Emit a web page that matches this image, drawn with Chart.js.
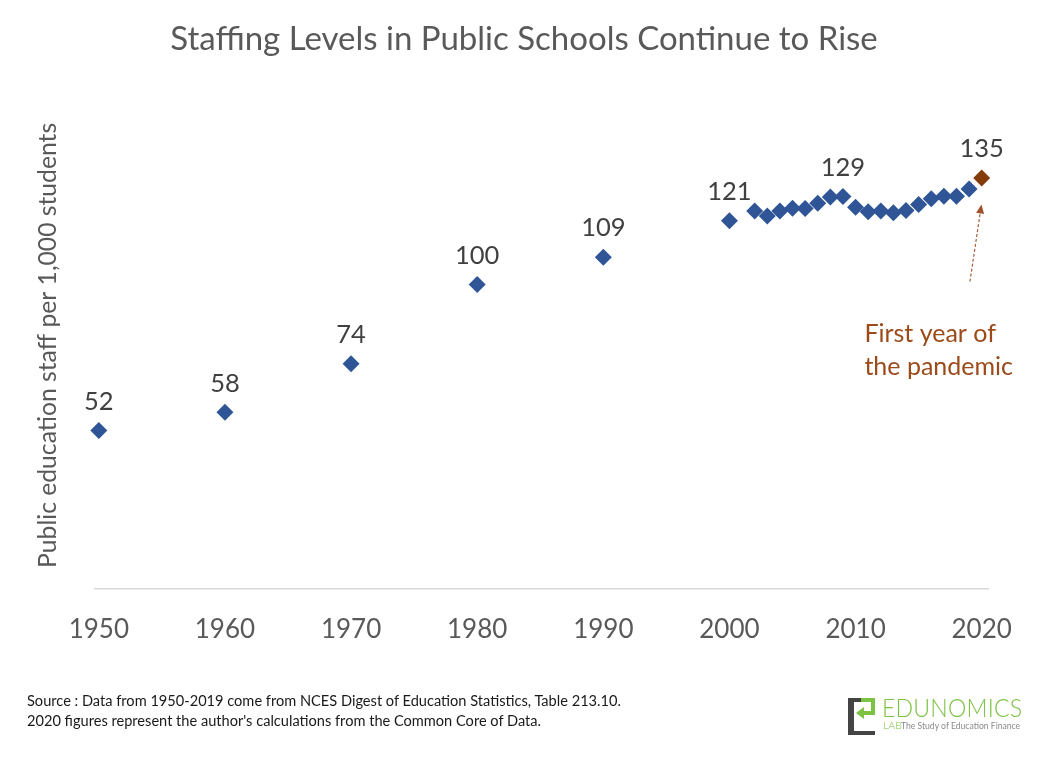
<!DOCTYPE html>
<html>
<head>
<meta charset="utf-8">
<script src="https://cdn.jsdelivr.net/npm/chart.js@4/dist/chart.umd.min.js"></script>
<style>
  html, body { margin: 0; padding: 0; background: #ffffff; }
  #wrap { position: relative; width: 1062px; height: 764px; overflow: hidden; }
  #c { position: absolute; left: 0; top: 0; }
  #source { position: absolute; left: 27px; top: 691px; font-family: Lato, "Liberation Sans", sans-serif; font-size: 14.6px; line-height: 20px; color: #1a1a1a; white-space: nowrap; }
  #logo { position: absolute; left: 846px; top: 692px; width: 190px; height: 48px; font-family: Lato, "Liberation Sans", sans-serif; }
  #logo div { position: absolute; }
  #logo .d1 { left: 2px; top: 6px; width: 6px; height: 37px; background: #444444; }
  #logo .d2 { left: 2px; top: 6px; width: 13px; height: 4px; background: #444444; }
  #logo .d3 { left: 2px; top: 39px; width: 27px; height: 4px; background: #444444; }
  #logo .g1 { left: 15px; top: 6px; width: 14px; height: 4px; background: #7cc243; }
  #logo .g2 { left: 25px; top: 6px; width: 4px; height: 17px; background: #7cc243; }
  #logo .g3 { left: 16px; top: 19px; width: 13px; height: 4px; background: #7cc243; }
  #logo .g4 { left: 10px; top: 15px; width: 8px; height: 12px; background: #7cc243; clip-path: polygon(0 50%, 100% 0, 100% 100%); }
  #logo .name { left: 36px; top: -1px; font-size: 26px; font-weight: 300; color: #7cc243; letter-spacing: 0.2px; transform: scaleX(0.89); transform-origin: 0 0; white-space: nowrap; }
  #logo .lab { left: 37px; top: 27px; font-size: 10.5px; font-weight: 300; color: #7cc243; }
  #logo .tag { left: 55px; top: 29px; font-size: 8.6px; color: #8a8a8a; white-space: nowrap; }
</style>
</head>
<body>
<div id="wrap">
  <canvas id="c" width="1062" height="764"></canvas>
  <div id="source">Source : Data from 1950-2019 come from NCES Digest of Education Statistics, Table 213.10.<br>2020 figures represent the author's calculations from the Common Core of Data.</div>
  <div id="logo">
    <div class="d1"></div><div class="d2"></div><div class="d3"></div>
    <div class="g1"></div><div class="g2"></div><div class="g3"></div><div class="g4"></div>
    <div class="name">EDUNOMICS</div>
    <div class="lab">LAB</div>
    <div class="tag">The Study of Education Finance</div>
  </div>
</div>
<script>
// ---- Data ----
const years = [1950, 1960, 1970, 1980, 1990, 2000, 2002, 2003, 2004, 2005, 2006, 2007, 2008, 2009, 2010, 2011, 2012, 2013, 2014, 2015, 2016, 2017, 2018, 2019];
const staffPer1000 = [52, 58, 74, 100, 109, 121, 124.2, 122.5, 124.2, 125.1, 125.0, 126.7, 128.8, 128.9, 125.4, 123.9, 124.2, 123.6, 124.3, 126.3, 128.2, 129.0, 129.0, 131.4];
const pandemicYear = [2020];
const pandemicValue = [135];
const labeledYears = [1950, 1960, 1970, 1980, 1990, 2000, 2009];
const labelText = ["52", "58", "74", "100", "109", "121", "129"];
const pandemicLabel = ["135"];
const tickYears = [1950, 1960, 1970, 1980, 1990, 2000, 2010, 2020];
const titleText = "Staffing Levels in Public Schools Continue to Rise";
const yAxisTitle = "Public education staff per 1,000 students";
const noteLines = ["First year of", "the pandemic"];
const noteAnchor = [2010.7, 83.7];        // text position (year, value)
const arrowFrom = [2019.07, 101];         // arrow tail (year, value)
const arrowTo = [2019.98, 126.3];         // arrow head (year, value)

const BLUE = "#2f5597";
const BROWN = "#843c0c";
const FONT = "Lato, 'Open Sans', sans-serif";

const mainPts = years.map((y, i) => ({ x: y, y: staffPer1000[i] }));
const pandPts = pandemicYear.map((y, i) => ({ x: y, y: pandemicValue[i] }));

const labelsPlugin = {
  id: 'pointLabels',
  afterDatasetsDraw(chart) {
    const ctx = chart.ctx;
    ctx.save();
    ctx.font = "25.5px " + FONT;
    ctx.fillStyle = "#404040";
    ctx.textAlign = "center";
    ctx.textBaseline = "middle";
    const m0 = chart.getDatasetMeta(0);
    labeledYears.forEach((yr, k) => {
      const idx = years.indexOf(yr);
      const el = m0.data[idx];
      ctx.fillText(labelText[k], el.x, el.y - 29);
    });
    const m1 = chart.getDatasetMeta(1);
    m1.data.forEach((el, k) => ctx.fillText(pandemicLabel[k], el.x, el.y - 29));

    // annotation
    const xs = chart.scales.x, ys = chart.scales.y;
    ctx.fillStyle = "#9c4a1a";
    ctx.textAlign = "left";
    ctx.font = "25px " + FONT;
    const tx = xs.getPixelForValue(noteAnchor[0]);
    const ty = ys.getPixelForValue(noteAnchor[1]);
    noteLines.forEach((ln, i) => ctx.fillText(ln, tx, ty + i * 33));

    const x1 = xs.getPixelForValue(arrowFrom[0]), y1 = ys.getPixelForValue(arrowFrom[1]);
    const x2 = xs.getPixelForValue(arrowTo[0]), y2 = ys.getPixelForValue(arrowTo[1]);
    const ang = Math.atan2(y2 - y1, x2 - x1);
    const hl = 9;
    const bx = x2 - hl * Math.cos(ang), by = y2 - hl * Math.sin(ang);
    ctx.strokeStyle = "#a0603a";
    ctx.lineWidth = 1.2;
    ctx.setLineDash([3, 2]);
    ctx.beginPath();
    ctx.moveTo(x1, y1);
    ctx.lineTo(bx, by);
    ctx.stroke();
    ctx.setLineDash([]);
    ctx.fillStyle = "#a0522d";
    ctx.beginPath();
    ctx.moveTo(x2, y2);
    ctx.lineTo(bx + 4 * Math.sin(ang), by - 4 * Math.cos(ang));
    ctx.lineTo(bx - 4 * Math.sin(ang), by + 4 * Math.cos(ang));
    ctx.closePath();
    ctx.fill();
    ctx.restore();
  }
};

new Chart(document.getElementById('c'), {
  type: 'scatter',
  data: {
    datasets: [
      { data: mainPts, backgroundColor: BLUE, borderWidth: 0, pointStyle: 'rectRot', pointRadius: 8.5, pointHoverRadius: 8.5, clip: false },
      { data: pandPts, backgroundColor: BROWN, borderWidth: 0, pointStyle: 'rectRot', pointRadius: 8.5, pointHoverRadius: 8.5, clip: false }
    ]
  },
  options: {
    responsive: false,
    animation: false,
    devicePixelRatio: 1,
    layout: { padding: { left: 24, right: 38, top: 0, bottom: 94 } },
    plugins: {
      legend: { display: false },
      tooltip: { enabled: false },
      title: {
        display: true, text: titleText, color: "#595959",
        font: { family: FONT, size: 33, weight: 'normal' },
        padding: { top: 20, bottom: 42.4 }
      }
    },
    scales: {
      x: {
        type: 'linear', min: 1949.7, max: 2020.5,
        afterBuildTicks: (s) => { s.ticks = tickYears.map(v => ({ value: v })); },
        grid: { display: false, drawTicks: false },
        border: { display: true, color: "#d9d9d9", width: 1.5 },
        ticks: { color: "#595959", font: { family: FONT, size: 26 }, padding: 25, maxRotation: 0, autoSkip: false, callback: (v) => String(v) }
      },
      y: {
        min: 0, max: 160,
        grid: { display: false, drawTicks: false },
        border: { display: false },
        ticks: { display: false },
        title: { display: true, text: yAxisTitle, color: "#595959", font: { family: FONT, size: 24.7 }, padding: { top: 9.2, bottom: 32.2 } }
      },
      yRight: {
        position: 'right', min: 0, max: 160,
        grid: { display: false, drawTicks: false },
        border: { display: false },
        ticks: { display: false },
        afterFit: (s) => { s.width = 36; }
      }
    }
  },
  plugins: [labelsPlugin]
});
</script>
</body>
</html>
